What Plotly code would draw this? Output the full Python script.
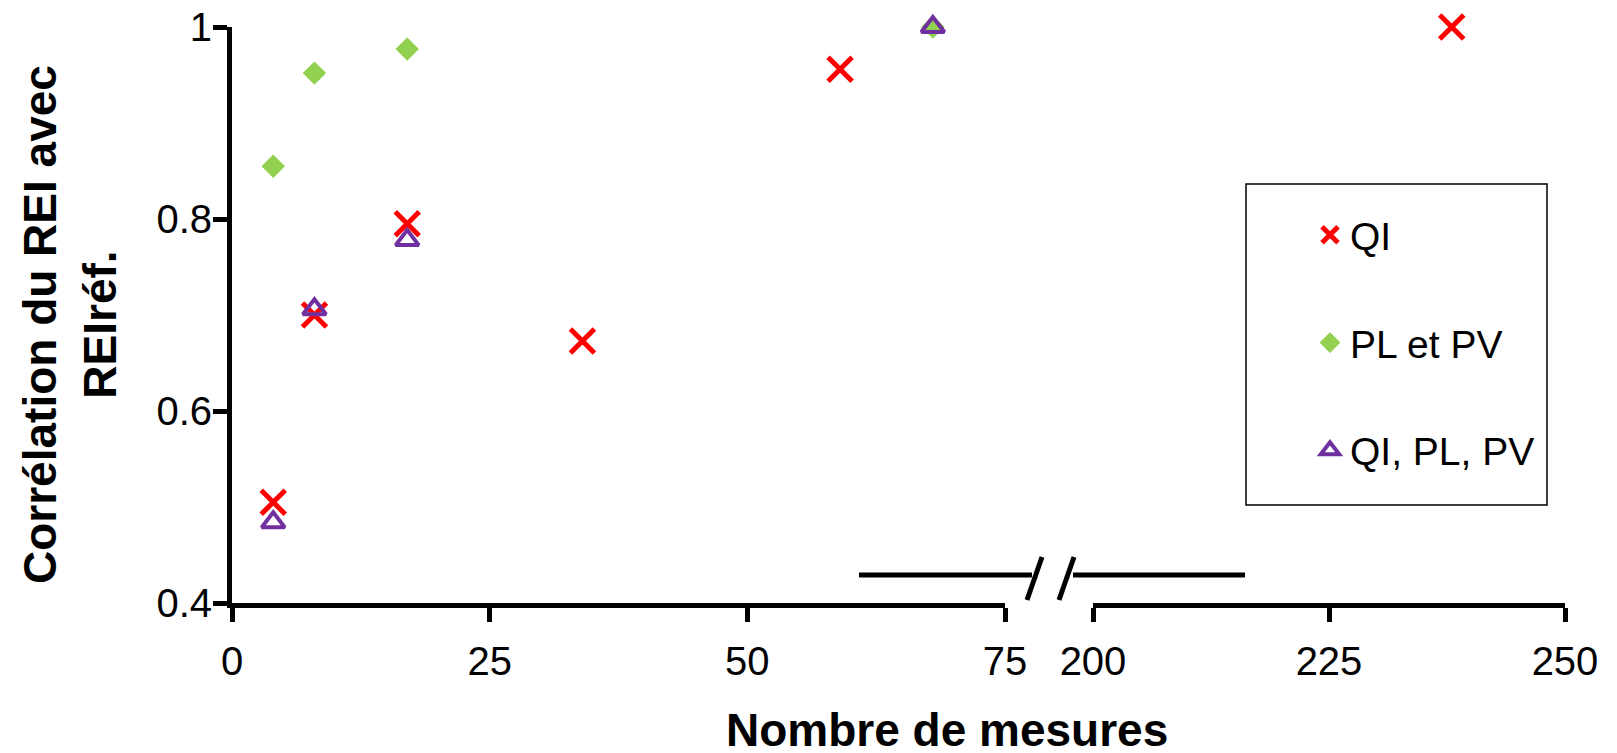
import plotly.graph_objects as go

# ---- data ----
qi_x = [4, 8, 17, 34, 59, 238]
qi_y = [0.505, 0.70, 0.795, 0.673, 0.956, 1.0]
plpv_x = [4, 8, 17, 68]
plpv_y = [0.855, 0.952, 0.977, 1.0]
all_x = [4, 8, 17, 68]
all_y = [0.484, 0.706, 0.778, 1.0]

y_ticks = [0.4, 0.6, 0.8, 1.0]
y_ticktext = ["0.4", "0.6", "0.8", "1"]
x_left_ticks = [0, 25, 50, 75]
x_right_ticks = [200, 225, 250]

# page (screenshot) geometry; the html body adds an 8px margin
OFF = 8
PAGE_W, PAGE_H = 1617, 753
W, H = PAGE_W - OFF, PAGE_H - OFF
# plot area in page pixels
P_LEFT, P_RIGHT, P_TOP, P_BOTTOM = 232, 1565, 27, 603
L = P_LEFT - OFF
T = P_TOP - OFF
R = W - (P_RIGHT - OFF)
B = H - (P_BOTTOM - OFF)
PW, PH = W - L - R, H - T - B


def fx(px):
    return (px - P_LEFT) / PW


def fy(py):
    return (P_BOTTOM - py) / PH


left_dom = [0, fx(1005)]
right_dom = [fx(1093), 1]

TICKFONT = dict(family="Liberation Sans, Arial", size=40, color="black")
BOLD = dict(family="Liberation Sans, Arial", size=46, color="black", weight="bold")

RED, GREEN, PURPLE = "#FF0000", "#92D050", "#7030A0"

fig = go.Figure()


def split(xs, ys):
    lx = [x for x in xs if x <= 75]
    ly = [y for x, y in zip(xs, ys) if x <= 75]
    rx = [x for x in xs if x >= 200]
    ry = [y for x, y in zip(xs, ys) if x >= 200]
    return lx, ly, rx, ry


series = [
    ("QI", qi_x, qi_y, dict(symbol="x-thin", size=24, color=RED, line=dict(color=RED, width=5))),
    ("PL et PV", plpv_x, plpv_y, dict(symbol="diamond", size=18, color=GREEN, line=dict(width=0))),
    ("QI, PL, PV", all_x, all_y, dict(symbol="triangle-up-open", size=20, color=PURPLE, line=dict(color=PURPLE, width=4))),
]

for i, (name, xs, ys, mk) in enumerate(series):
    lx, ly, rx, ry = split(xs, ys)
    fig.add_trace(go.Scatter(x=lx, y=ly, mode="markers", name=name, marker=mk,
                             xaxis="x", yaxis="y", cliponaxis=False,
                             legendgroup=f"g{i}", showlegend=True))
    if rx:
        fig.add_trace(go.Scatter(x=rx, y=ry, mode="markers", name=name, marker=mk,
                                 xaxis="x2", yaxis="y", cliponaxis=False,
                                 legendgroup=f"g{i}", showlegend=False))

axis_common = dict(showline=True, linecolor="black", linewidth=5, ticks="outside",
                   ticklen=14, tickwidth=5, tickcolor="black", showgrid=False,
                   zeroline=False, tickfont=TICKFONT, automargin=False,
                   ticklabeloverflow="allow")

fig.update_layout(
    width=W, height=H,
    margin=dict(l=L, r=R, t=T, b=B, autoexpand=False),
    plot_bgcolor="white", paper_bgcolor="white",
    xaxis=dict(domain=left_dom, range=[0, 75], tickvals=x_left_ticks,
               anchor="y", ticklabelstandoff=5, **axis_common),
    xaxis2=dict(domain=right_dom, range=[200, 250], tickvals=x_right_ticks,
                anchor="y", ticklabelstandoff=5, **axis_common),
    yaxis=dict(range=[0.4, 1.0], tickvals=y_ticks, ticktext=y_ticktext,
               anchor="x", ticklabelstandoff=-7, **axis_common),
    showlegend=True,
    legend=dict(x=fx(1310), y=fy(203), xanchor="left", yanchor="top",
                bgcolor="rgba(0,0,0,0)", borderwidth=0,
                font=dict(family="Liberation Sans, Arial", size=39, color="black"),
                tracegroupgap=54, itemsizing="trace"),
)

# legend frame
fig.add_shape(type="rect", xref="paper", yref="paper",
              x0=fx(1246), x1=fx(1547), y0=fy(505), y1=fy(184),
              line=dict(color="black", width=1.5), fillcolor="rgba(0,0,0,0)", layer="below")

# axis break marks
for (x0, y0, x1, y1) in [(859, 575, 1032, 575), (1073, 575, 1245, 575),
                         (1027, 600, 1042, 557), (1059, 600, 1074, 557)]:
    fig.add_shape(type="line", xref="paper", yref="paper",
                  x0=fx(x0), y0=fy(y0), x1=fx(x1), y1=fy(y1),
                  line=dict(color="black", width=5))

# axis titles
fig.add_annotation(text="Corrélation du REI avec<br>REIréf.", xref="paper", yref="paper",
                   x=fx(70), y=fy(325), textangle=-90, showarrow=False,
                   font=BOLD, xanchor="center", yanchor="middle", align="center")
fig.add_annotation(text="Nombre de mesures", xref="paper", yref="paper",
                   x=fx(947), y=fy(PAGE_H + 4), showarrow=False, font=BOLD,
                   xanchor="center", yanchor="bottom", borderpad=0)

fig.write_html("out.html")
